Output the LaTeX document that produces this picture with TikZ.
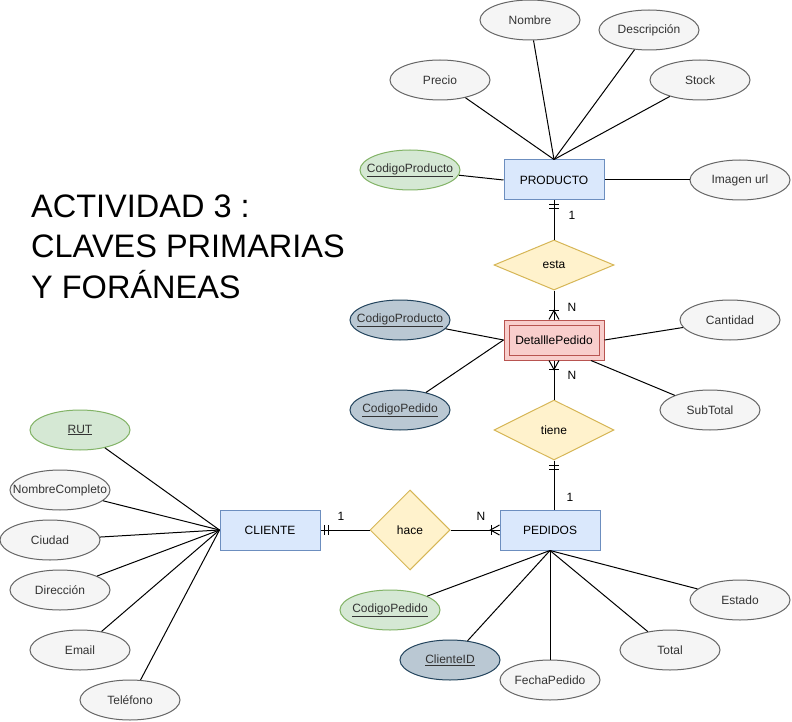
\documentclass[tikz,border=0pt]{standalone}
\usepackage{fontspec}
\setmainfont{Liberation Sans}
\usetikzlibrary{shapes.geometric}
\definecolor{blueF}{HTML}{DAE8FC}
\definecolor{blueS}{HTML}{6C8EBF}
\definecolor{yelF}{HTML}{FFF2CC}
\definecolor{yelS}{HTML}{D6B656}
\definecolor{redF}{HTML}{F8CECC}
\definecolor{redS}{HTML}{B85450}
\definecolor{greenF}{HTML}{D5E8D4}
\definecolor{greenS}{HTML}{82B366}
\definecolor{grayF}{HTML}{F5F5F5}
\definecolor{grayS}{HTML}{666666}
\definecolor{grayT}{HTML}{333333}
\definecolor{slateF}{HTML}{BAC8D3}
\definecolor{slateS}{HTML}{23445D}
\begin{document}
\begin{tikzpicture}[x=1pt,y=-1pt,
  lbl/.style={font=\fontsize{12}{14}\selectfont},
  ent/.style={draw=blueS, fill=blueF, minimum width=100pt, minimum height=40pt, inner sep=0pt, line width=1pt, font=\fontsize{12}{14}\selectfont},
  wk/.style={draw=redS, fill=redF, minimum width=100pt, minimum height=40pt, inner sep=0pt, line width=1pt, font=\fontsize{12}{14}\selectfont},
  rel/.style={diamond, draw=yelS, fill=yelF, inner sep=0pt, line width=1pt, font=\fontsize{12}{14}\selectfont},
  attr/.style={ellipse, draw=grayS, fill=grayF, text=grayT, minimum width=100pt, minimum height=40pt, inner xsep=-20pt, inner ysep=0pt, line width=1pt, font=\fontsize{12}{14}\selectfont},
  pk/.style={attr, draw=greenS, fill=greenF},
  fk/.style={attr, draw=slateS, fill=slateF},
  conn/.style={draw=black, line width=1pt},
  mk/.style={draw=black, line width=1pt}
]
\useasboundingbox (0,0) rectangle (792,722);
\fill[white] (0,0) rectangle (792,722);

% title
\node[anchor=base west, align=left, inner sep=0pt, font=\fontsize{32.5}{40.5}\selectfont] (title) at (31,298) {ACTIVIDAD 3 :\\CLAVES PRIMARIAS\\Y FORÁNEAS};

% entities
\node[ent] (prod) at (554,180) {PRODUCTO};
\node[wk] (dp) at (554,340) {};
\node[draw=redS, line width=1pt, minimum width=90pt, minimum height=30pt, inner sep=0pt, font=\fontsize{12}{14}\selectfont] (dpin) at (554,340) {DetalllePedido};
\node[ent] (ped) at (550,530) {PEDIDOS};
\node[ent] (cli) at (270,530) {CLIENTE};

% relations
\node[rel, minimum width=120pt, minimum height=50pt] (esta) at (554,265) {esta};
\node[rel, minimum width=120pt, minimum height=60pt] (tiene) at (554,430) {tiene};
\node[rel, minimum width=80pt, minimum height=80pt] (hace) at (410,530) {hace};

% producto attributes
\node[attr] (nombre) at (530,20) {Nombre};
\node[attr] (desc) at (649,30) {Descripción};
\node[attr] (precio) at (440,80) {Precio};
\node[attr] (stock) at (700,80) {Stock};
\node[pk] (codprod) at (410,170) {\underline{CodigoProducto}};
\node[attr] (img) at (740,180) {Imagen url};

% detalle attributes
\node[fk] (dpcp) at (400,320) {\underline{CodigoProducto}};
\node[fk] (dpcped) at (400,410) {\underline{CodigoPedido}};
\node[attr] (cant) at (730,320) {Cantidad};
\node[attr] (sub) at (710,410) {SubTotal};

% cliente attributes
\node[pk] (rut) at (80,430) {\underline{RUT}};
\node[attr] (nc) at (60,490) {NombreCompleto};
\node[attr] (ciudad) at (50,540) {Ciudad};
\node[attr] (dir) at (60,590) {Dirección};
\node[attr] (email) at (80,650) {Email};
\node[attr] (tel) at (130,700) {Teléfono};

% pedidos attributes
\node[pk] (pcod) at (390,610) {\underline{CodigoPedido}};
\node[fk] (pcli) at (450,660) {\underline{ClienteID}};
\node[attr] (fecha) at (550,680) {FechaPedido};
\node[attr] (total) at (670,650) {Total};
\node[attr] (estado) at (740,600) {Estado};

% attribute lines
\foreach \a in {precio,nombre,desc,stock} \draw[conn] (prod.north) -- (\a);
\draw[conn] (codprod) -- (prod.west);
\draw[conn] (prod.east) -- (img);
\draw[conn] (dpcp) -- (dp.west);
\draw[conn] (dpcped) -- (dp.west);
\draw[conn] (dp.east) -- (cant);
\draw[conn] (dp.-29) -- (sub);
\foreach \a in {rut,nc,ciudad,dir,email,tel} \draw[conn] (cli.west) -- (\a);
\foreach \a in {pcod,pcli,fecha,total,estado} \draw[conn] (ped.south) -- (\a);

% relationship connectors
\draw[conn] (prod.south) -- (esta.north);
\draw[conn] (esta.south) -- (dp.north);
\draw[conn] (dp.south) -- (tiene.north);
\draw[conn] (tiene.south) -- (tiene.south |- ped.north);
\draw[conn] (cli.east) -- (hace.west);
\draw[conn] (hace.east) -- (ped.west);

% markers: mandatory one
\draw[mk] (prod.south) ++(-5,4) -- ++(10,0) ++(-10,4) -- ++(10,0);
\draw[mk] (tiene.south) ++(-5,5) -- ++(10,0) ++(-10,4) -- ++(10,0);
\draw[mk] (cli.east) ++(4,-5) -- ++(0,10) ++(4,-10) -- ++(0,10);
% markers: one to many
\draw[mk] (dp.north) ++(-5,0) -- ++(5,-9) -- ++(5,9);
\draw[mk] (dp.north) ++(-5,-9) -- ++(10,0);
\draw[mk] (dp.south) ++(-5,0) -- ++(5,9) -- ++(5,-9);
\draw[mk] (dp.south) ++(-5,9) -- ++(10,0);
\draw[mk] (ped.west) ++(0,-5) -- ++(-9,5) -- ++(9,5);
\draw[mk] (ped.west) ++(-8,-5) -- ++(0,10);

% cardinality labels
\node[lbl] (c1) at (572,215) {1};
\node[lbl] (c2) at (572,307) {N};
\node[lbl] (c3) at (572,375) {N};
\node[lbl] (c4) at (570,497) {1};
\node[lbl] (c5) at (341,516) {1};
\node[lbl] (c6) at (481,516) {N};
\end{tikzpicture}
\end{document}
